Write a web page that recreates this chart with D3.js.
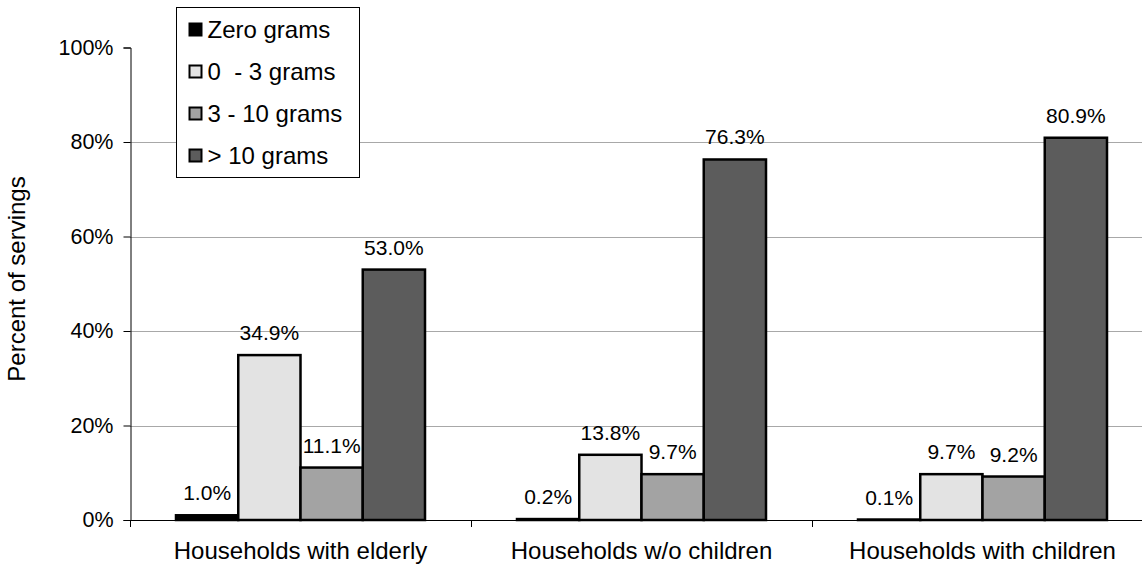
<!DOCTYPE html>
<html><head><meta charset="utf-8">
<script src="https://cdn.jsdelivr.net/npm/d3@7"></script>
<style>body{margin:0;background:#fff;} svg{display:block;font-family:"Liberation Sans",Arial,sans-serif;}</style>
</head><body>
<svg id="chart" width="1142" height="569"></svg>
<script>
const categories = ["Households with elderly", "Households w/o children", "Households with children"];
const seriesNames = ["Zero grams", "0  - 3 grams", "3 - 10 grams", "> 10 grams"];
const zeroGrams = [1.0, 0.2, 0.1];
const zeroToThree = [34.9, 13.8, 9.7];
const threeToTen = [11.1, 9.7, 9.2];
const overTen = [53.0, 76.3, 80.9];
const yTicks = [0, 20, 40, 60, 80, 100];
const colors = ["#000000", "#e3e3e3", "#a3a3a3", "#5c5c5c"];
const seriesValues = [zeroGrams, zeroToThree, threeToTen, overTen];

(function () {
const svg = d3.select("#chart");
const pLeft = 130, pRight = 1153, pTop = 47.5, pBottom = 520;
const x0 = d3.scaleBand().domain(categories).range([pLeft, pRight]);
const groupW = 249;
const x1 = d3.scaleBand().domain(seriesNames).range([(x0.bandwidth() - groupW) / 2, (x0.bandwidth() + groupW) / 2]);
const y = d3.scaleLinear().domain([0, 100]).range([pBottom, pTop]);

// gridlines
svg.append("g").selectAll("line").data(yTicks.filter(t => t > 0 && t < 100)).join("line")
  .attr("x1", pLeft).attr("x2", 1142).attr("y1", d => Math.round(y(d)) + 0.5).attr("y2", d => Math.round(y(d)) + 0.5)
  .attr("stroke", "#a8a8a8").attr("stroke-width", 1);

// y axis
const yAxis = d3.axisLeft(y).tickValues(yTicks).tickFormat(d => d + "%").tickSize(7).tickPadding(10);
const gy = svg.append("g").attr("transform", `translate(${pLeft + 0.5},0)`).call(yAxis);
gy.select(".domain").attr("stroke", "#000");
gy.selectAll(".tick line").attr("stroke", "#000");
gy.selectAll(".tick text").attr("font-size", "21.5px").attr("fill", "#000").attr("font-family", "Liberation Sans, Arial, sans-serif");

// bars
const groups = svg.append("g").selectAll("g").data(categories).join("g")
  .attr("transform", d => `translate(${x0(d)},0)`);
groups.selectAll("rect").data((d, i) => seriesNames.map((s, j) => ({ s, j, v: seriesValues[j][i] }))).join("rect")
  .attr("x", d => x1(d.s)).attr("width", x1.bandwidth())
  .attr("y", d => y(d.v)).attr("height", d => y(0) - y(d.v))
  .attr("fill", d => colors[d.j]).attr("stroke", "#000").attr("stroke-width", 2.5);
groups.selectAll("text").data((d, i) => seriesNames.map((s, j) => ({ s, j, v: seriesValues[j][i] }))).join("text")
  .attr("x", d => x1(d.s) + x1.bandwidth() / 2).attr("y", d => y(d.v) - 15)
  .attr("text-anchor", "middle").attr("font-size", "21px").attr("fill", "#000")
  .text(d => d.v.toFixed(1) + "%");

// x axis
const xAxis = d3.axisBottom(x0).tickSize(0).tickPadding(22);
const gx = svg.append("g").attr("transform", `translate(0,${pBottom})`).call(xAxis);
gx.select(".domain").remove();
gx.selectAll(".tick text").attr("font-size", "24px").attr("fill", "#000").attr("font-family", "Liberation Sans, Arial, sans-serif");
svg.append("line").attr("x1", pLeft).attr("x2", 1142).attr("y1", pBottom + 0.5).attr("y2", pBottom + 0.5).attr("stroke", "#000");
svg.append("g").selectAll("line").data(categories).join("line")
  .attr("x1", d => Math.round(x0(d)) + 0.5).attr("x2", d => Math.round(x0(d)) + 0.5)
  .attr("y1", pBottom).attr("y2", pBottom + 7).attr("stroke", "#000");

// y title
svg.append("text").attr("transform", `translate(25,279) rotate(-90)`)
  .attr("text-anchor", "middle").attr("font-size", "24px").attr("fill", "#000").text("Percent of servings");

// legend
const lg = svg.append("g").attr("transform", "translate(176.5,7.5)");
lg.append("rect").attr("width", 183).attr("height", 170).attr("fill", "#fff").attr("stroke", "#000").attr("stroke-width", 1);
const items = lg.selectAll("g").data(seriesNames).join("g").attr("transform", (d, i) => `translate(0,${22 + i * 42})`);
items.append("rect").attr("x", 13).attr("y", -6).attr("width", 12).attr("height", 12)
  .attr("fill", (d, i) => colors[i]).attr("stroke", "#000").attr("stroke-width", 2);
items.append("text").attr("x", 31).attr("y", 8.5).attr("font-size", "24px").attr("fill", "#000")
  .style("white-space", "pre").attr("xml:space", "preserve").text(d => d);
})();
</script>
</body></html>
